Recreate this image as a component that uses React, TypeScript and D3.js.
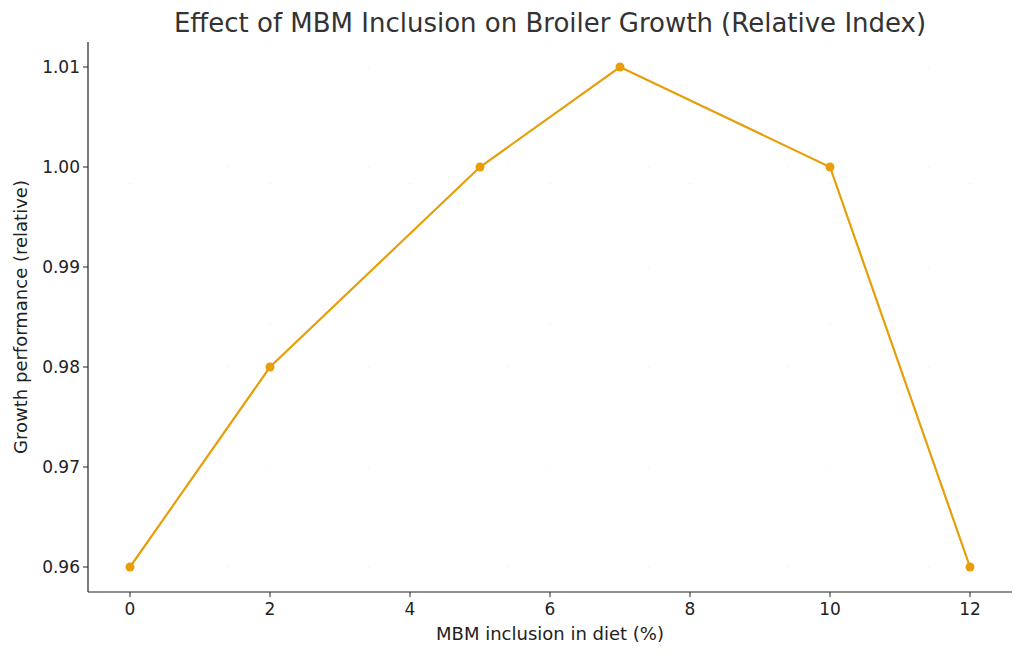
import * as d3 from "d3";

const inclusion = [0, 2, 5, 7, 10, 12];
const growth = [0.96, 0.98, 1.0, 1.01, 1.0, 0.96];
const xTicks = [0, 2, 4, 6, 8, 10, 12];
const yTicks = [0.96, 0.97, 0.98, 0.99, 1.0, 1.01];

export default function App() {
  const W = 1024, H = 656;
  const m = { left: 88, right: 12, top: 42, bottom: 64 };
  const x = d3.scaleLinear().domain([-0.6, 12.6]).range([m.left, W - m.right]);
  const y = d3.scaleLinear().domain([0.9575, 1.0125]).range([H - m.bottom, m.top]);
  const line = d3.line<number>().x((_, i) => x(inclusion[i])).y((d) => y(d));
  const color = "#E69F0A";
  const font = "DejaVu Sans, sans-serif";
  return (
    <svg width={W} height={H} style={{ position: "absolute", left: 0, top: 0, background: "#fff" }} fontFamily={font}>
      {xTicks.map((t) => (
        <line key={"gx" + t} x1={x(t)} x2={x(t)} y1={m.top} y2={H - m.bottom} stroke="#ddd" strokeWidth={0.6} strokeDasharray="1 140" />
      ))}
      {yTicks.map((t) => (
        <line key={"gy" + t} x1={m.left} x2={W - m.right} y1={y(t)} y2={y(t)} stroke="#ddd" strokeWidth={0.6} strokeDasharray="1 139" />
      ))}
      <path d={line(growth)!} fill="none" stroke={color} strokeWidth={2.2} />
      {growth.map((g, i) => (
        <circle key={i} cx={x(inclusion[i])} cy={y(g)} r={4.5} fill={color} />
      ))}
      <line x1={m.left} x2={m.left} y1={m.top} y2={H - m.bottom} stroke="#222" strokeWidth={1.2} />
      <line x1={m.left} x2={W - m.right} y1={H - m.bottom} y2={H - m.bottom} stroke="#222" strokeWidth={1.2} />
      {xTicks.map((t) => (
        <g key={"xt" + t}>
          <line x1={x(t)} x2={x(t)} y1={H - m.bottom} y2={H - m.bottom + 5} stroke="#222" />
          <text x={x(t)} y={H - m.bottom + 23} textAnchor="middle" fontSize={17} fill="#222">{t}</text>
        </g>
      ))}
      {yTicks.map((t) => (
        <g key={"yt" + t}>
          <line x1={m.left - 5} x2={m.left} y1={y(t)} y2={y(t)} stroke="#222" />
          <text x={m.left - 8} y={y(t)} dy="0.35em" textAnchor="end" fontSize={17} fill="#222">{t.toFixed(2)}</text>
        </g>
      ))}
      <text x={(m.left + W - m.right) / 2} y={640} textAnchor="middle" fontSize={18} fill="#222">MBM inclusion in diet (%)</text>
      <text transform={`translate(27,${(m.top + H - m.bottom) / 2}) rotate(-90)`} textAnchor="middle" fontSize={18} fill="#222">Growth performance (relative)</text>
      <text x={550} y={32} textAnchor="middle" fontSize={26} fill="#333">Effect of MBM Inclusion on Broiler Growth (Relative Index)</text>
    </svg>
  );
}
